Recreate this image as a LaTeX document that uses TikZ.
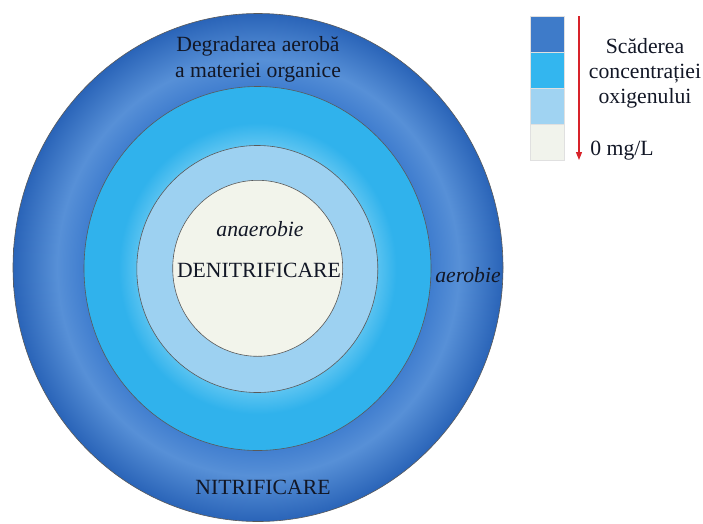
\documentclass[tikz,border=0pt]{standalone}
\usepackage{fontspec}
\IfFontExistsTF{LiberationSerif-Regular.ttf}{%
  \setmainfont{LiberationSerif-Regular.ttf}[ItalicFont=LiberationSerif-Italic.ttf,BoldFont=LiberationSerif-Bold.ttf]}{%
  \setmainfont{Liberation Serif}}
\usetikzlibrary{shapes.geometric,arrows.meta}

\definecolor{bandedge}{HTML}{2A64B8}
\definecolor{bandmid}{HTML}{5790D7}
\definecolor{bandin}{HTML}{3E7CCE}
\definecolor{cyanin}{HTML}{5CC4F1}
\definecolor{cyanout}{HTML}{30B2EC}
\definecolor{paleblue}{HTML}{9DD1F1}
\definecolor{core}{HTML}{F2F4EB}
\definecolor{ink}{HTML}{121726}
\definecolor{keyA}{HTML}{3E7BC9}
\definecolor{keyB}{HTML}{33B6EF}
\definecolor{keyC}{HTML}{A0D3F2}
\definecolor{keyD}{HTML}{F1F3EC}
\definecolor{arrowred}{HTML}{D8232A}

% radial shadings: 25bp is the rim of the shaded shape
\pgfdeclareradialshading{outerband}{\pgfpoint{0bp}{0bp}}{%
  color(0bp)=(bandin); color(17.5bp)=(bandin); color(20.5bp)=(bandmid);
  color(25bp)=(bandedge); color(50bp)=(bandedge)}
\pgfdeclareradialshading{cyanband}{\pgfpoint{0bp}{0bp}}{%
  color(0bp)=(cyanin); color(17bp)=(cyanin); color(20bp)=(cyanout);
  color(25bp)=(cyanout); color(50bp)=(cyanout)}

\tikzset{
  ring/.style={ellipse, draw=black!65, line width=0.6pt, inner sep=0pt, outer sep=0pt},
  txt/.style={text=ink, font=\fontsize{21.7}{26}\selectfont, inner sep=0pt, align=center},
  itxt/.style={txt, font=\fontsize{21.7}{26}\selectfont\itshape},
  keybox/.style={draw=black!12, line width=0.4pt, minimum width=34pt, minimum height=36pt, inner sep=0pt, outer sep=0pt},
}

\begin{document}
\begin{tikzpicture}[x=1pt,y=-1pt]
\useasboundingbox (0,0) rectangle (703,523);

% concentric zones
\node[ring, shading=outerband, minimum width=490pt, minimum height=508pt] (aerzone) at (258,267.5) {};
\node[ring, shading=cyanband, minimum width=347pt, minimum height=364pt] (midzone) at (257.5,268.5) {};
\node[ring, fill=paleblue, minimum width=241pt, minimum height=247pt] (lowzone) at (257.3,269) {};
\node[ring, fill=core, minimum width=170pt, minimum height=176pt] (anzone) at (257.7,268.3) {};

% zone labels
\node[txt] (degr) at (258,59) {Degradarea aerobă\\a materiei organice};
\node[itxt] (anaer) at (260,229) {anaerobie};
\node[txt] (denit) at (259,270) {DENITRIFICARE};
\node[itxt] (aer) at (468,275) {aerobie};
\node[txt] (nitr) at (263,487) {NITRIFICARE};

% key of oxygen levels
\node[keybox, fill=keyA] (k1) at (547,34) {};
\node[keybox, fill=keyB] (k2) at (547,70) {};
\node[keybox, fill=keyC] (k3) at (547,106) {};
\node[keybox, fill=keyD] (k4) at (547,142) {};

\coordinate (atop) at (579,16);
\coordinate (abot) at (579,160);
\draw[arrowred, line width=1.1pt, -{Triangle[length=8pt,width=6pt]}] (atop) -- (abot);

\node[txt, font=\fontsize{21.7}{25}\selectfont] (keytxt) at (645,73) {Scăderea\\concentrației\\oxigenului};
\node[txt] (zero) at (622,151) {0 mg/L};
\end{tikzpicture}
\end{document}
